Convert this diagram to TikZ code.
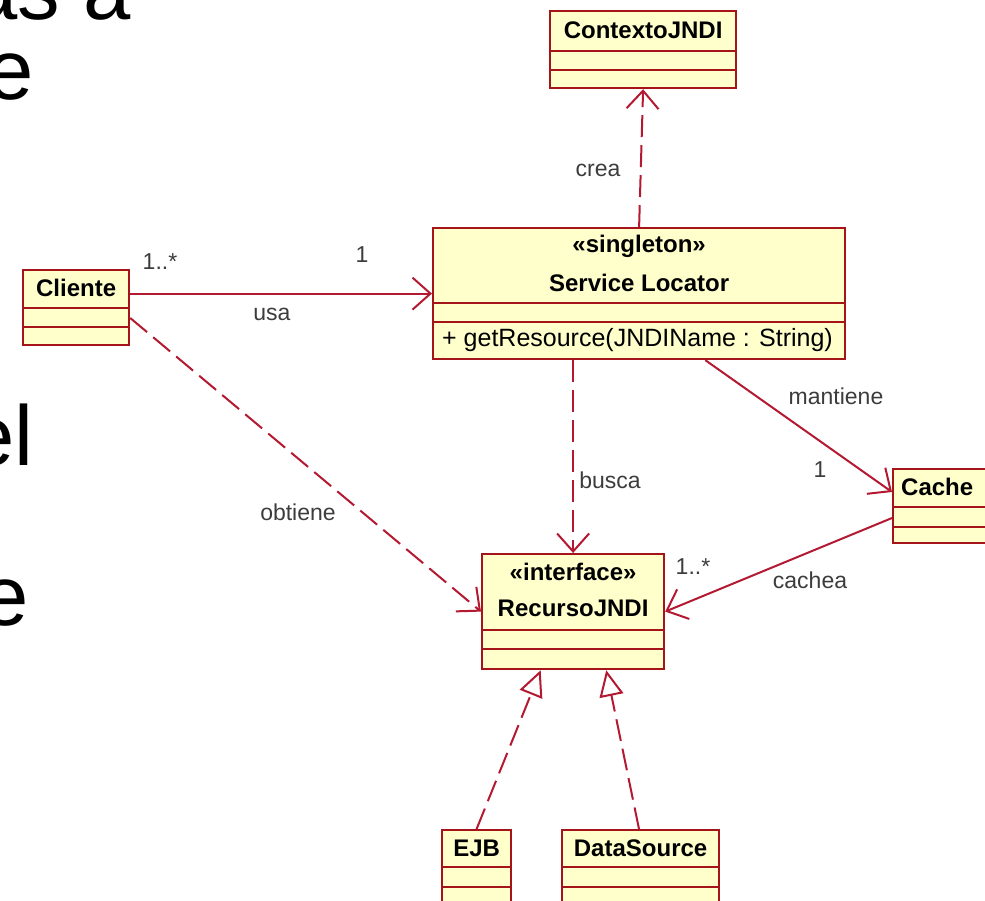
\documentclass[tikz,border=0pt]{standalone}
\usepackage{fontspec}
\setmainfont{Liberation Sans}
\usetikzlibrary{arrows.meta,calc}
\definecolor{boxfill}{RGB}{255,255,204}
\definecolor{boxline}{RGB}{165,20,25}
\definecolor{linkred}{RGB}{180,25,50}
\definecolor{labelgray}{RGB}{60,60,60}

\begin{document}
\begin{tikzpicture}[x=1pt,y=-1pt,
  classbox/.style={draw=boxline, fill=boxfill, line width=2.2pt, rectangle,
    inner sep=0pt, anchor=north west},
  sep/.style={draw=boxline, line width=2.2pt},
  cname/.style={font=\fontsize{24}{26}\selectfont\bfseries, inner sep=0pt},
  oper/.style={font=\fontsize{25}{27}\selectfont, inner sep=0pt, anchor=west},
  lbl/.style={font=\fontsize{23}{25}\selectfont, text=labelgray, inner sep=0pt},
  slidetxt/.style={font=\fontsize{85}{90}\selectfont, inner sep=0pt, anchor=base east},
  assoc/.style={draw=linkred, line width=2pt,
    -{Straight Barb[length=18pt,width=32pt,line width=2pt]}},
  depend/.style={assoc, dash pattern=on 22pt off 8pt},
  realize/.style={draw=linkred, line width=2pt, dash pattern=on 22pt off 8pt,
    -{Triangle[open,length=26pt,width=24pt,line width=2pt,fill=white]}}
]
\useasboundingbox (0,0) rectangle (985,901);
\clip (0,0) rectangle (985,901);

% slide text running off the left edge
\node[slidetxt] (s1) at (131,20) {as a};
\node[slidetxt] (s2) at (34,100) {e};
\node[slidetxt] (s3) at (34,465) {el};
\node[slidetxt] (s4) at (29,625) {e};

% ---- classes ----
\node[classbox, minimum width=186pt, minimum height=77pt] (ctx) at (549,10) {};
\draw[sep] ($(ctx.north west)+(0,41)$) -- ($(ctx.north east)+(0,41)$);
\draw[sep] ($(ctx.north west)+(0,60)$) -- ($(ctx.north east)+(0,60)$);
\node[cname] (ctxname) at ($(ctx.north)+(0,20)$) {ContextoJNDI};

\node[classbox, minimum width=412pt, minimum height=131pt] (sl) at (432,227) {};
\draw[sep] ($(sl.north west)+(0,76)$) -- ($(sl.north east)+(0,76)$);
\draw[sep] ($(sl.north west)+(0,95)$) -- ($(sl.north east)+(0,95)$);
\node[cname] (slst) at ($(sl.north)+(0,19)$) {«singleton»};
\node[cname] (slname) at ($(sl.north)+(0,56)$) {Service Locator};
\node[oper] (slop) at ($(sl.north west)+(10,113)$) {+ getResource(JNDIName : String)};

\node[classbox, minimum width=106pt, minimum height=75pt] (cli) at (22,269) {};
\draw[sep] ($(cli.north west)+(0,39)$) -- ($(cli.north east)+(0,39)$);
\draw[sep] ($(cli.north west)+(0,58)$) -- ($(cli.north east)+(0,58)$);
\node[cname] (cliname) at ($(cli.north)+(0,19)$) {Cliente};

\node[classbox, minimum width=120pt, minimum height=74pt] (cache) at (892,468) {};
\draw[sep] ($(cache.north west)+(0,39)$) -- ($(cache.north east)+(0,39)$);
\draw[sep] ($(cache.north west)+(0,59)$) -- ($(cache.north east)+(0,59)$);
\node[cname, anchor=west] (cachename) at ($(cache.north west)+(9,19)$) {Cache};

\node[classbox, minimum width=182pt, minimum height=115pt] (rec) at (481,553) {};
\draw[sep] ($(rec.north west)+(0,77)$) -- ($(rec.north east)+(0,77)$);
\draw[sep] ($(rec.north west)+(0,96)$) -- ($(rec.north east)+(0,96)$);
\node[cname] (recst) at ($(rec.north)+(0,19)$) {«interface»};
\node[cname] (recname) at ($(rec.north)+(0,55)$) {RecursoJNDI};

\node[classbox, minimum width=69pt, minimum height=90pt] (ejb) at (441,829) {};
\draw[sep] ($(ejb.north west)+(0,38)$) -- ($(ejb.north east)+(0,38)$);
\draw[sep] ($(ejb.north west)+(0,58)$) -- ($(ejb.north east)+(0,58)$);
\node[cname] (ejbname) at ($(ejb.north)+(0,19)$) {EJB};

\node[classbox, minimum width=157pt, minimum height=90pt] (ds) at (561,829) {};
\draw[sep] ($(ds.north west)+(0,38)$) -- ($(ds.north east)+(0,38)$);
\draw[sep] ($(ds.north west)+(0,58)$) -- ($(ds.north east)+(0,58)$);
\node[cname] (dsname) at ($(ds.north)+(0,19)$) {DataSource};

% ---- relationships ----
\draw[assoc] (cli.north east |- sl.west) -- (sl.west);
\node[lbl] (m1) at (160,262) {1..*};
\node[lbl] (m2) at (362,255) {1};
\node[lbl] (usa) at (272,314) {usa};

\draw[depend] (sl.north) -- (ctx.south);
\node[lbl] (crea) at (598,170) {crea};

\draw[assoc] ($(sl.south west)!0.66!(sl.south east)$) -- ($(cache.north west)+(0,24)$);
\node[lbl] (mant) at (836,396) {mantiene};
\node[lbl] (m3) at (820,470) {1};

\draw[depend] (sl.south -| rec.north) -- (rec.north);
\node[lbl] (busca) at (610,480) {busca};

\draw[depend] ($(cli.north east)+(0,49)$) -- (rec.west);
\node[lbl] (obt) at (298,512) {obtiene};

\draw[assoc] ($(cache.north west)+(0,50)$) -- (rec.east);
\node[lbl] (m4) at (693,567) {1..*};
\node[lbl] (cachea) at (810,580) {cachea};

\draw[realize] (ejb.north) -- ($(rec.south west)!0.324!(rec.south east)$);
\draw[realize] ($(ds.north west)!0.49!(ds.north east)$) -- ($(rec.south west)!0.68!(rec.south east)$);
\end{tikzpicture}
\end{document}
